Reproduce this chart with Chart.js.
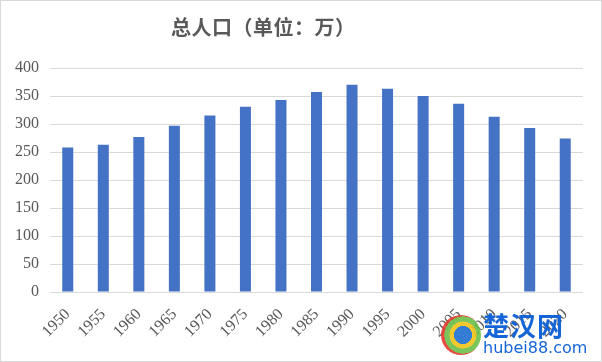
<!DOCTYPE html>
<html>
<head>
<meta charset="utf-8">
<script src="https://cdn.jsdelivr.net/npm/chart.js@4"></script>
<style>
  body { margin: 0; background: #fff; }
  #wrap { position: relative; width: 602px; height: 362px; box-sizing: border-box; border: 1px solid #d9d9d9; overflow: hidden; }
  #chart { position: absolute; left: -1px; top: -1px; }
  #title { position: absolute; left: 170px; top: 14px; font: bold 20px "Noto Sans CJK SC", sans-serif; color: #595959; line-height: 24px; letter-spacing: 0.5px; }
  #mark { position: absolute; left: 436px; top: 308px; width: 160px; height: 50px; }
  #logo { position: absolute; left: 4px; top: 6px; width: 40px; height: 40px; border-radius: 50%;
          background: radial-gradient(circle at 55% 50%, #1e6fd0 0 30%, #f0c419 31% 45%, #6cc04a 46% 62%, #e23b2e 63% 100%); opacity: 0.9; }
  #mark .cn { position: absolute; left: 46px; top: 2px; font: bold 26px "Noto Sans CJK SC", sans-serif; color: #1565d8; line-height: 28px; letter-spacing: 1px; }
  #mark .en { position: absolute; left: 46px; top: 30px; font: 16px "DejaVu Sans", sans-serif; color: #1565d8; line-height: 18px; }
</style>
</head>
<body>
<div id="wrap">
  <canvas id="chart" width="602" height="362"></canvas>
  <div id="title">总人口（单位：万）</div>
  <div id="mark"><div id="logo"></div><div class="cn">楚汉网</div><div class="en">hubei88.com</div></div>
</div>
<script>
const years = ['1950', '1955', '1960', '1965', '1970', '1975', '1980', '1985', '1990', '1995', '2000', '2005', '2010', '2015', '2020'];
const population = [258, 263, 277, 297, 315, 331, 343, 357, 370, 363, 350, 336, 313, 293, 274];
const yTicks = [0, 50, 100, 150, 200, 250, 300, 350, 400];

const labelFont = { family: '"Liberation Serif", "Times New Roman", serif', size: 16 };

new Chart(document.getElementById('chart').getContext('2d'), {
    type: 'bar',
    data: {
        labels: years,
        datasets: [{
            label: '总人口',
            data: population,
            backgroundColor: '#4472c4',
            barPercentage: 0.31,
            categoryPercentage: 1
        }]
    },
    options: {
        responsive: false,
        animation: false,
        layout: { padding: { top: 68, right: 19, left: 0, bottom: 0 } },
        plugins: {
            legend: { display: false },
            tooltip: { enabled: false }
        },
        scales: {
            x: {
                grid: { display: false },
                border: { display: false },
                ticks: { color: '#595959', font: labelFont, minRotation: 45, maxRotation: 45, padding: 5 },
                afterFit: function(scale) { scale.height = 70; }
            },
            y: {
                min: yTicks[0],
                max: yTicks[yTicks.length - 1],
                afterBuildTicks: function(scale) { scale.ticks = yTicks.map(v => ({ value: v })); },
                grid: { color: '#d9d9d9', lineWidth: 1, drawTicks: false },
                border: { display: false },
                ticks: { color: '#595959', font: labelFont, padding: 11 },
                afterFit: function(scale) { scale.width = 50; }
            }
        }
    }
});
</script>
</body>
</html>
